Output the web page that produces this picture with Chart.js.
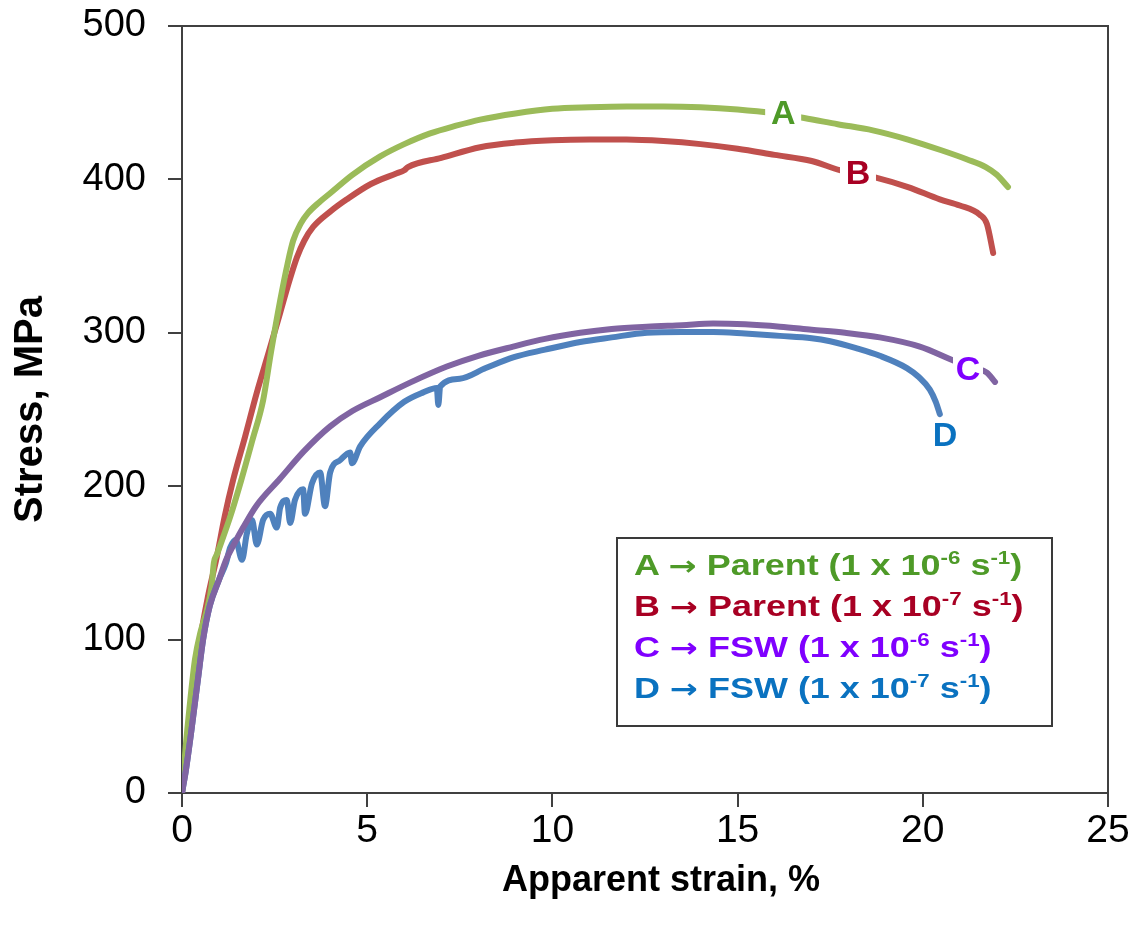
<!DOCTYPE html>
<html>
<head>
<meta charset="utf-8">
<script src="https://cdn.jsdelivr.net/npm/chart.js@4/dist/chart.umd.min.js"></script>
<style>
  body { margin: 0; background: #fff; }
  #wrap { position: relative; width: 1136px; height: 926px; }
  #key {
    position: absolute; left: 616px; top: 537px; width: 437px; height: 190px;
    box-sizing: border-box; border: 2px solid #3a3a3a; background: #fff;
    font: bold 29px "Liberation Sans", Arial, sans-serif;
    padding: 6px 0 0 16px;
  }
  #key div { height: 41px; line-height: 41px; white-space: nowrap;
             transform: scaleX(1.24); transform-origin: 0 50%; }
  #key sup { font-size: 18px; vertical-align: 11px; line-height: 0; }
  #key .ar { font-family: "DejaVu Sans", sans-serif; font-size: 27px; }
</style>
</head>
<body>
<div id="wrap">
  <canvas id="myChart"></canvas>
  <div id="key">
    <div style="color:#4e9a28">A <span class="ar">&rarr;</span> Parent (1 x 10<sup>-6</sup> s<sup>-1</sup>)</div>
    <div style="color:#a80023">B <span class="ar">&rarr;</span> Parent (1 x 10<sup>-7</sup> s<sup>-1</sup>)</div>
    <div style="color:#7f00ff">C <span class="ar">&rarr;</span> FSW (1 x 10<sup>-6</sup> s<sup>-1</sup>)</div>
    <div style="color:#0a72c0">D <span class="ar">&rarr;</span> FSW (1 x 10<sup>-7</sup> s<sup>-1</sup>)</div>
  </div>
</div>
<script>
// values: strain in %, stress in MPa
const strainA = [0, 0.1, 0.2, 0.35, 0.5, 0.67, 0.8, 0.86, 0.95, 1.3, 1.6, 1.9, 2.19, 2.4, 2.65, 2.85, 3.0, 3.2, 3.4, 3.7, 4.0, 4.6, 5.35, 6.0, 6.7, 7.4, 8.05, 9.0, 10.0, 11.0, 12.0, 13.0, 14.0, 15.0, 16.0, 16.8, 17.7, 18.65, 19.6, 20.5, 21.2, 21.7, 22.0, 22.3];
const stressA = [0, 30, 55, 87, 105, 119, 135, 150, 156, 180, 204, 230, 256, 287, 321, 345, 360, 371, 378, 385, 391, 403, 415, 423, 430, 435, 439, 443, 446, 447, 447.5, 447.5, 447, 445.5, 443, 440, 436, 432, 426, 419, 413, 408, 403, 395];

const strainB = [0, 0.1, 0.25, 0.49, 0.7, 0.94, 1.15, 1.38, 1.7, 2.02, 2.35, 2.65, 2.9, 3.1, 3.3, 3.54, 4.0, 4.45, 5.1, 5.8, 6.0, 6.1, 7.0, 8.05, 9.0, 10.0, 11.0, 12.0, 13.0, 14.0, 15.0, 16.0, 17.0, 17.76, 18.76, 19.6, 20.46, 21.0, 21.54, 21.73, 21.9];
const stressB = [0, 25, 55, 100, 128, 154, 180, 204, 232, 261, 288, 313, 334, 349, 360, 369, 379, 387, 397, 404, 406, 408, 414, 421, 424, 425.5, 426, 426, 425, 423, 420, 416, 412, 406, 401, 395, 387, 383, 377, 371, 352];

const strainC = [0, 0.1, 0.25, 0.43, 0.57, 0.75, 1.0, 1.19, 1.4, 1.65, 2.0, 2.65, 3.3, 4.0, 4.6, 5.35, 6.2, 7.15, 8.0, 8.94, 9.8, 10.75, 11.6, 12.55, 13.5, 14.34, 15.2, 16.14, 17.0, 17.9, 18.84, 19.92, 20.92, 21.4, 21.73, 21.95];
const stressC = [0, 14, 40, 74, 100, 122, 139, 152, 162, 173, 187, 205, 223, 239, 249, 258, 268, 278, 285, 291, 296, 300, 302.5, 304, 305, 306, 305.5, 304, 302, 300, 297, 291, 281, 277, 274, 268];

const strainD = [0, 0.1, 0.25, 0.43, 0.57, 0.75, 1.0, 1.19, 1.3, 1.45, 1.62, 1.75, 1.89, 2.02, 2.19, 2.38, 2.56, 2.65, 2.83, 2.92, 3.05, 3.27, 3.32, 3.51, 3.73, 3.86, 4.0, 4.27, 4.54, 4.59, 4.81, 5.35, 6.0, 6.5, 6.88, 6.92, 6.97, 7.5, 8.2, 8.94, 9.8, 10.75, 11.6, 12.55, 13.5, 14.34, 15.2, 16.14, 17.0, 17.5, 18.2, 18.84, 19.57, 19.9, 20.19, 20.35, 20.46];
const stressD = [0, 14, 40, 74, 100, 122, 139, 150, 160, 165, 152, 169, 178, 162, 178, 182, 173, 186, 191, 176, 191, 198, 182, 202, 209, 187, 209, 217, 222, 215, 226, 241, 255, 261, 264, 253, 265, 270, 277, 284, 289, 294, 297, 300, 300.5, 300.5, 299.5, 298, 296.5, 294.5, 290, 285, 277, 271, 263, 255, 247];

const xTicks = [0, 5, 10, 15, 20, 25];
const yTicks = [0, 100, 200, 300, 400, 500];

const pts = (xs, ys) => xs.map((v, i) => ({x: v, y: ys[i]}));
const FONT = '"Liberation Sans", Arial, sans-serif';

// text labels sitting on the curves, white box cuts the line behind them
const curveLabels = {
  id: 'curveLabels',
  afterDatasetsDraw(chart, args, opts) {
    const {ctx, scales: {x, y}} = chart;
    ctx.save();
    ctx.font = 'bold 34px ' + FONT;
    ctx.textAlign = 'center';
    ctx.textBaseline = 'middle';
    opts.items.forEach(it => {
      const px = x.getPixelForValue(it.x), py = y.getPixelForValue(it.y);
      if (it.gap) {
        ctx.fillStyle = '#fff';
        ctx.fillRect(px - it.gap / 2, py - 17, it.gap, 34);
      }
      ctx.fillStyle = it.color;
      ctx.fillText(it.text, px, py + 1);
    });
    ctx.restore();
  }
};

// top and right sides of the plot box, plus the x title (sits a bit right of centre)
const frame = {
  id: 'frame',
  beforeDatasetsDraw(chart) {
    const {ctx, chartArea: a} = chart;
    ctx.save();
    ctx.strokeStyle = '#404040';
    ctx.lineWidth = 2;
    ctx.beginPath();
    ctx.moveTo(a.left, a.top);
    ctx.lineTo(a.right, a.top);
    ctx.lineTo(a.right, a.bottom);
    ctx.stroke();
    ctx.restore();
  },
  afterDraw(chart, args, opts) {
    const {ctx, chartArea: a} = chart;
    ctx.save();
    ctx.font = 'bold 36px ' + FONT;
    ctx.fillStyle = '#000';
    ctx.textAlign = 'center';
    ctx.textBaseline = 'middle';
    ctx.fillText(opts.xTitle, (a.left + a.right) / 2 + 16, a.bottom + 88);
    ctx.restore();
  }
};

const line = (data, color, order) => ({
  data, borderColor: color, backgroundColor: color, borderWidth: 6,
  showLine: true, pointRadius: 0, cubicInterpolationMode: 'monotone',
  borderCapStyle: 'round', borderJoinStyle: 'round', order
});

const config = {
  type: 'scatter',
  data: {
    datasets: [
      line(pts(strainB, stressB), '#c0504d', 3),
      line(pts(strainA, stressA), '#9bbb59', 2),
      line(pts(strainD, stressD), '#4f81bd', 1),
      line(pts(strainC, stressC), '#8064a2', 0)
    ]
  },
  options: {
    responsive: true,
    maintainAspectRatio: false,
    animation: false,
    layout: { padding: { left: 0, right: 28, top: 26, bottom: 0 } },
    plugins: {
      legend: { display: false },
      tooltip: { enabled: false },
      frame: { xTitle: 'Apparent strain, %' },
      curveLabels: {
        items: [
          { text: 'A', x: 16.23, y: 443, color: '#4e9a28', gap: 36 },
          { text: 'B', x: 18.25, y: 404, color: '#a80023', gap: 36 },
          { text: 'C', x: 21.22, y: 276, color: '#7f00ff', gap: 30 },
          { text: 'D', x: 20.6, y: 233, color: '#0a72c0' }
        ]
      }
    },
    scales: {
      x: {
        type: 'linear', min: 0, max: 25,
        afterFit: s => { s.height = 133; s.paddingLeft = 0; s.paddingRight = 0; },
        afterBuildTicks: s => { s.ticks = xTicks.map(v => ({value: v})); },
        ticks: { font: { size: 39, family: FONT }, color: '#000', padding: 1, maxRotation: 0, autoSkip: false },
        grid: { drawOnChartArea: false, drawTicks: true, tickLength: 14, color: '#404040', lineWidth: 2 },
        border: { display: true, color: '#404040', width: 2 },
        title: { display: false }
      },
      y: {
        min: 0, max: 500,
        afterFit: s => { s.width = 182; s.paddingTop = 0; s.paddingBottom = 0; },
        afterBuildTicks: s => { s.ticks = yTicks.map(v => ({value: v})); },
        ticks: { font: { size: 38, family: FONT }, color: '#000', padding: 22 },
        grid: { drawOnChartArea: false, drawTicks: true, tickLength: 14, color: '#404040', lineWidth: 2 },
        border: { display: true, color: '#404040', width: 2 },
        title: { display: true, text: 'Stress, MPa', color: '#000',
                 font: { size: 40, weight: 'bold', family: FONT }, padding: { top: 7, bottom: 0 } }
      }
    }
  },
  plugins: [curveLabels, frame]
};

const myChart = new Chart(document.getElementById('myChart'), config);
</script>
</body>
</html>
